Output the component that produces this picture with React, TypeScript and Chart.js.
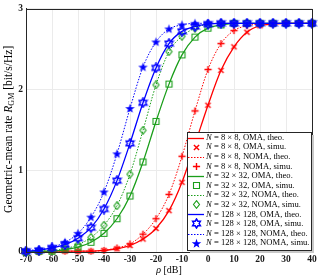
import React, { useEffect, useRef } from 'react';
import { Chart, registerables } from 'chart.js';

Chart.register(...registerables);

// ---------- data ----------
const rho = [-70, -65, -60, -55, -50, -45, -40, -35, -30, -25, -20, -15, -10, -5, 0, 5, 10, 15, 20, 25, 30, 35, 40];
const xTicks = [-70, -60, -50, -40, -30, -20, -10, 0, 10, 20, 30, 40];
const yTicks = [0, 1, 2, 3];

const oma8 = [0.0, 0.0, 0.01, 0.01, 0.01, 0.01, 0.02, 0.04, 0.08, 0.16, 0.29, 0.51, 0.86, 1.33, 1.81, 2.24, 2.53, 2.71, 2.79, 2.81, 2.82, 2.82, 2.82];
const noma8 = [0.0, 0.0, 0.01, 0.01, 0.01, 0.01, 0.02, 0.05, 0.1, 0.22, 0.41, 0.71, 1.18, 1.74, 2.25, 2.57, 2.73, 2.79, 2.81, 2.82, 2.82, 2.82, 2.82];
const oma32 = [0.0, 0.01, 0.01, 0.03, 0.06, 0.12, 0.23, 0.41, 0.69, 1.11, 1.61, 2.07, 2.43, 2.65, 2.76, 2.8, 2.82, 2.82, 2.82, 2.82, 2.82, 2.82, 2.82];
const noma32 = [0.0, 0.01, 0.02, 0.04, 0.09, 0.18, 0.33, 0.57, 0.96, 1.5, 2.06, 2.47, 2.66, 2.76, 2.81, 2.82, 2.82, 2.82, 2.82, 2.82, 2.82, 2.82, 2.82];
const oma128 = [0.01, 0.02, 0.05, 0.09, 0.17, 0.3, 0.53, 0.88, 1.34, 1.84, 2.27, 2.57, 2.72, 2.78, 2.81, 2.82, 2.82, 2.82, 2.82, 2.82, 2.82, 2.82, 2.82];
const noma128 = [0.02, 0.03, 0.06, 0.12, 0.23, 0.43, 0.74, 1.21, 1.77, 2.28, 2.59, 2.75, 2.8, 2.82, 2.82, 2.82, 2.82, 2.82, 2.82, 2.82, 2.82, 2.82, 2.82];

const sizes = ['8 × 8', '32 × 32', '128 × 128'];
const schemes = ['OMA', 'NOMA'];
const kinds = ['theo.', 'simu.'];

const RED = '#ff0000';
const GREEN = '#1a9e1a';
const BLUE = '#0000ff';
const SERIF = '"Liberation Serif", "DejaVu Serif", serif';

function marker(kind: string, color: string): HTMLCanvasElement {
  const size = kind === 'star' || kind === 'hex' ? 11 : 9;
  const c = document.createElement('canvas');
  c.width = size;
  c.height = size;
  const g = c.getContext('2d')!;
  const m = size / 2;
  g.strokeStyle = color;
  g.fillStyle = color;
  g.lineWidth = 1.1;
  g.beginPath();
  if (kind === 'x') {
    const d = 2.6;
    g.moveTo(m - d, m - d); g.lineTo(m + d, m + d);
    g.moveTo(m + d, m - d); g.lineTo(m - d, m + d);
    g.lineWidth = 1.4; g.stroke();
  } else if (kind === 'plus') {
    const d = 3.6;
    g.moveTo(m - d, m); g.lineTo(m + d, m);
    g.moveTo(m, m - d); g.lineTo(m, m + d);
    g.lineWidth = 1.4; g.stroke();
  } else if (kind === 'square') {
    g.rect(m - 3, m - 3, 6, 6); g.stroke();
  } else if (kind === 'diamond') {
    g.moveTo(m, m - 3.8); g.lineTo(m + 3, m); g.lineTo(m, m + 3.8); g.lineTo(m - 3, m); g.closePath(); g.stroke();
  } else if (kind === 'star') {
    for (let i = 0; i < 10; i++) {
      const r = i % 2 ? 2.0 : 5.0;
      const a = -Math.PI / 2 + (i * Math.PI) / 5;
      const px = m + r * Math.cos(a), py = m + 0.3 + r * Math.sin(a);
      if (i === 0) g.moveTo(px, py); else g.lineTo(px, py);
    }
    g.closePath(); g.fill();
  } else if (kind === 'hex') {
    for (let i = 0; i < 12; i++) {
      const r = i % 2 ? 2.6 : 4.5;
      const a = -Math.PI / 2 + (i * Math.PI) / 6;
      const px = m + r * Math.cos(a), py = m + r * Math.sin(a);
      if (i === 0) g.moveTo(px, py); else g.lineTo(px, py);
    }
    g.closePath(); g.lineWidth = 1.5; g.stroke();
  }
  return c;
}

export default function App() {
  const ref = useRef<HTMLCanvasElement>(null);

  useEffect(() => {
    const series = [
      { vals: oma8, color: RED, dash: [] as number[], mk: 'x', order: 3 },
      { vals: noma8, color: RED, dash: [1.5, 1.5], mk: 'plus', order: 3 },
      { vals: oma32, color: GREEN, dash: [] as number[], mk: 'square', order: 2 },
      { vals: noma32, color: GREEN, dash: [1.5, 1.5], mk: 'diamond', order: 2 },
      { vals: oma128, color: BLUE, dash: [] as number[], mk: 'hex', order: 1 },
      { vals: noma128, color: BLUE, dash: [1.5, 1.5], mk: 'star', order: 1 },
    ];
    const datasets: any[] = [];
    series.forEach((s, i) => {
      const size = sizes[Math.floor(i / 2)];
      const scheme = schemes[i % 2];
      const pts = rho.map((x, j) => ({ x, y: s.vals[j] }));
      datasets.push({
        label: `N = ${size}, ${scheme}, ${kinds[0]}`,
        data: pts,
        borderColor: s.color,
        borderWidth: s.dash.length ? 1 : 1.3,
        borderDash: s.dash,
        pointRadius: 0,
        cubicInterpolationMode: 'monotone',
        fill: false,
        order: s.order + 0.5,
      });
      datasets.push({
        label: `N = ${size}, ${scheme}, ${kinds[1]}`,
        data: pts,
        showLine: false,
        borderColor: s.color,
        backgroundColor: s.color,
        pointStyle: marker(s.mk, s.color),
        pointRadius: 4,
        clip: false,
        order: s.order,
      });
    });

    const frame = {
      id: 'frame',
      afterDraw(chart: any) {
        const { ctx, chartArea: a } = chart;
        ctx.save();
        // axes box
        ctx.strokeStyle = '#262626';
        ctx.lineWidth = 1;
        ctx.strokeRect(Math.round(a.left) + 0.5, Math.round(a.top) + 0.5, Math.round(a.right - a.left), Math.round(a.bottom - a.top));

        // legend
        const lx0 = 187, ly0 = 132, lx1 = 311, ly1 = 250;
        ctx.fillStyle = '#c8c8c8';
        ctx.fillRect(lx1, ly0 + 3, 3, ly1 - ly0);
        ctx.fillRect(lx0 + 3, ly1, lx1 - lx0, 3);
        ctx.fillStyle = '#ffffff';
        ctx.fillRect(lx0, ly0, lx1 - lx0, ly1 - ly0);
        ctx.strokeStyle = '#262626';
        ctx.strokeRect(lx0 + 0.5, ly0 + 0.5, lx1 - lx0, ly1 - ly0);
        const ds = chart.data.datasets;
        ds.forEach((d: any, i: number) => {
          const cy = ly0 + 5.5 + i * 9.6;
          if (d.showLine === false) {
            const img = d.pointStyle as HTMLCanvasElement;
            ctx.drawImage(img, Math.round(196 - img.width / 2), Math.round(cy - img.height / 2));
          } else {
            ctx.save();
            ctx.strokeStyle = d.borderColor;
            ctx.lineWidth = d.borderWidth;
            ctx.setLineDash(d.borderDash);
            ctx.beginPath();
            ctx.moveTo(188, Math.round(cy) + 0.5);
            ctx.lineTo(204, Math.round(cy) + 0.5);
            ctx.stroke();
            ctx.restore();
          }
          ctx.fillStyle = '#000';
          ctx.textBaseline = 'middle';
          ctx.textAlign = 'left';
          ctx.font = `italic 8.6px ${SERIF}`;
          const first = d.label.slice(0, 1);
          ctx.fillText(first, 206, cy);
          const w = ctx.measureText(first).width;
          ctx.font = `8.6px ${SERIF}`;
          ctx.fillText(d.label.slice(1), 206 + w, cy);
        });

        // y title
        ctx.save();
        ctx.translate(9, (a.top + a.bottom) / 2 - 1);
        ctx.rotate(-Math.PI / 2);
        ctx.textBaseline = 'middle';
        ctx.textAlign = 'left';
        const parts = [
          { t: 'Geometric-mean rate ', f: `11.5px ${SERIF}`, dy: 0 },
          { t: 'R', f: `italic 11.5px ${SERIF}`, dy: 0 },
          { t: 'GM', f: `8px ${SERIF}`, dy: 2.8 },
          { t: ' [bit/s/Hz]', f: `11.5px ${SERIF}`, dy: 0 },
        ];
        let total = 0;
        parts.forEach((p) => { ctx.font = p.f; total += ctx.measureText(p.t).width; });
        let x = -total / 2;
        ctx.fillStyle = '#000';
        parts.forEach((p) => { ctx.font = p.f; ctx.fillText(p.t, x, p.dy); x += ctx.measureText(p.t).width; });
        ctx.restore();

        // x title
        ctx.textBaseline = 'alphabetic';
        ctx.textAlign = 'left';
        ctx.fillStyle = '#000';
        ctx.font = `italic 10px ${SERIF}`;
        const w1 = ctx.measureText('ρ').width;
        ctx.font = `10px ${SERIF}`;
        const w2 = ctx.measureText(' [dB]').width;
        const xs = (a.left + a.right) / 2 - (w1 + w2) / 2;
        ctx.font = `italic 10px ${SERIF}`;
        ctx.fillText('ρ', xs, 273);
        ctx.font = `10px ${SERIF}`;
        ctx.fillText(' [dB]', xs + w1, 273);
        ctx.restore();
      },
    };

    const chart = new Chart(ref.current!, {
      type: 'line',
      data: { datasets },
      options: {
        responsive: false,
        animation: false,
        layout: { padding: { top: 3, right: 7, left: 0, bottom: 0 } },
        plugins: { legend: { display: false }, tooltip: { enabled: false } },
        scales: {
          x: {
            type: 'linear',
            min: -70,
            max: 40,
            afterFit: (s: any) => { s.height = 25; },
            afterBuildTicks: (s: any) => { s.ticks = xTicks.map((v) => ({ value: v })); },
            ticks: { color: '#1a1a1a', padding: 2, font: { family: SERIF, size: 9.5, weight: 'bold' } },
            grid: { color: '#ebebeb', drawTicks: false },
            border: { color: '#262626' },
          },
          y: {
            type: 'linear',
            min: 0,
            max: 3,
            afterFit: (s: any) => { s.width = 26; },
            afterBuildTicks: (s: any) => { s.ticks = yTicks.map((v) => ({ value: v })); },
            ticks: { color: '#1a1a1a', padding: 3, font: { family: SERIF, size: 9.5, weight: 'bold' } },
            grid: { color: '#ebebeb', drawTicks: false },
            border: { color: '#262626' },
          },
        },
      },
      plugins: [frame],
    } as any);
    return () => chart.destroy();
  }, []);

  return (
    <div style={{ position: 'absolute', left: 0, top: 0, width: 319, height: 277, background: '#fff' }}>
      <canvas ref={ref} width={319} height={277} style={{ display: 'block' }} />
    </div>
  );
}
